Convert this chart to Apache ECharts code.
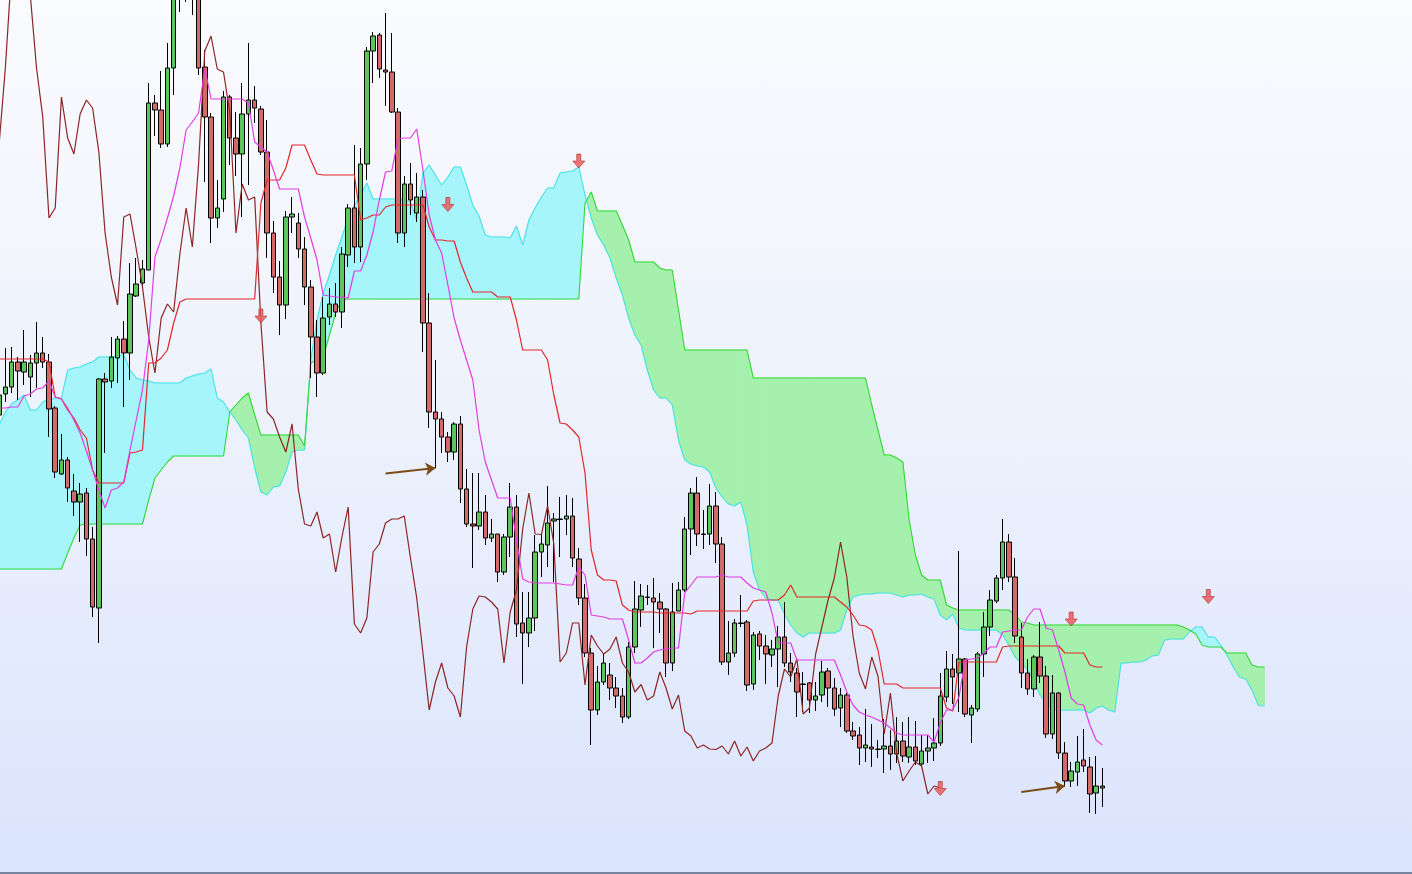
<!DOCTYPE html>
<html>
<head>
<meta charset="utf-8">
<script src="https://cdn.jsdelivr.net/npm/echarts@6/dist/echarts.min.js"></script>
<style>
  html, body { margin: 0; padding: 0; width: 1412px; height: 874px; overflow: hidden; }
  body { background: linear-gradient(to bottom, #fafbfe 0%, #eef2fc 45%, #dae4fd 100%); position: relative; }
  #chart { position: absolute; left: 0; top: 0; width: 1412px; height: 874px; }
  #baseline { position: absolute; left: 0; top: 872px; width: 1412px; height: 2px; background: #7784a0; }
</style>
</head>
<body>
<div id="chart"></div>
<div id="baseline"></div>
<script>
// ---- Candles (price units) ----
const open = [
58.5,60.6,61.3,63.8,62.8,62.3,63.7,64.7,63.8,59.2,
52.6,54.0,50.9,49.8,50.7,46.1,39.2,62.1,61.9,64.2,
66.1,64.7,70.4,71.7,73.0,89.7,89.0,85.6,93.2,101.5,
102.5,103.0,100.8,93.3,88.3,78.2,80.1,90.3,86.2,84.6,
88.6,90.0,89.1,84.8,76.7,72.3,69.5,78.3,77.7,75.1,
71.3,66.3,62.7,68.3,69.6,68.8,74.5,79.2,75.3,83.6,
94.9,96.5,93.0,92.8,88.8,76.7,81.6,78.7,80.3,67.7,
58.8,58.1,56.3,54.8,57.6,51.1,47.6,47.4,48.8,46.2,
46.6,42.8,46.3,49.3,37.7,36.7,38.2,44.8,45.5,47.9,
48.05,48.1,48.4,44.1,40.2,34.7,29.0,31.8,32.5,31.2,
30.4,28.3,35.3,39.0,40.25,40.2,39.8,39.1,33.7,38.9,
41.0,47.1,50.7,46.6,46.6,49.4,45.6,33.8,34.7,37.65,
37.8,31.6,36.6,35.4,34.5,35.1,36.3,33.7,32.7,31.6,
31.7,30.0,30.5,32.9,31.2,29.2,30.5,26.9,26.5,25.2,
25.3,25.1,25.1,25.4,24.6,25.9,24.3,25.3,23.6,24.9,
25.2,25.7,30.3,33.1,32.7,34.1,28.5,29.1,34.6,37.3,
39.9,42.2,45.8,42.3,36.3,32.7,31.1,34.3,32.4,26.6,
30.7,24.7,21.9,22.8,24.0,23.3,20.7,21.4];
const close = [
60.5,61.3,63.8,62.9,63.8,63.7,64.7,63.8,59.1,52.8,
54.0,51.2,49.8,50.6,46.1,39.3,62.1,61.8,64.3,66.1,
64.7,70.6,71.6,73.1,89.7,89.0,85.6,93.2,103.0,104.5,
100.8,100.5,93.2,88.3,78.2,79.2,90.3,86.2,84.6,88.6,
90.0,89.2,84.8,76.7,72.3,69.5,78.3,78.6,75.1,71.3,
66.3,62.7,68.2,69.6,68.8,74.6,79.2,75.3,83.6,94.9,
96.4,93.1,92.8,88.8,76.7,81.6,80.0,80.3,67.7,58.8,
58.1,56.3,54.8,57.6,51.1,47.6,47.4,48.8,46.2,46.6,
42.8,46.3,49.3,37.6,36.7,38.2,44.8,45.6,47.7,48.1,
48.1,48.4,44.2,40.2,34.7,29.0,31.8,33.7,31.2,30.4,
28.3,35.3,39.1,40.4,40.3,39.8,39.1,33.7,38.8,41.0,
47.1,50.7,46.6,46.55,49.4,45.6,33.8,34.7,37.7,37.7,
31.5,36.5,35.4,34.6,35.1,36.3,33.7,32.8,30.8,31.55,
30.0,30.4,32.8,31.2,29.1,30.5,26.9,26.4,25.2,25.5,
25.1,25.05,25.4,24.6,25.9,24.4,25.3,23.9,24.9,25.2,
25.7,30.4,33.1,32.3,34.1,28.6,29.2,34.6,37.3,40.0,
42.2,45.8,42.3,36.4,32.7,31.1,34.3,32.4,26.6,30.7,
24.7,21.9,22.9,23.8,23.4,20.6,21.4,21.2];
const low = [
58.0,59.8,60.7,60.0,61.5,60.3,61.2,63.2,56.3,52.2,
52.5,49.8,48.4,45.8,44.4,38.3,35.7,54.7,61.2,61.7,
59.3,62.0,70.3,71.3,73.0,86.4,85.2,85.3,90.5,98.8,
99.8,98.5,92.5,81.8,75.7,77.2,78.8,83.5,82.4,78.3,
81.5,87.7,84.5,74.2,70.7,66.5,68.1,76.7,74.2,69.5,
62.2,60.3,62.5,67.5,68.3,67.2,73.3,73.7,73.8,82.0,
91.7,92.2,89.4,88.7,75.7,75.3,78.5,77.8,64.8,57.2,
53.2,54.7,53.8,54.0,49.7,47.3,43.2,47.0,45.5,45.8,
41.8,42.5,44.3,36.3,31.6,35.3,36.9,42.3,43.3,41.8,
44.3,46.5,43.3,39.5,34.3,25.5,28.5,31.5,30.0,29.2,
27.7,28.1,34.7,37.3,39.5,35.2,36.7,32.3,32.9,38.9,
40.8,44.5,45.4,45.1,45.5,43.7,33.5,32.5,34.3,37.3,
30.9,31.0,34.0,31.6,33.3,31.3,33.3,31.8,28.3,28.8,
28.7,28.9,29.8,29.3,28.4,27.3,26.7,26.0,23.5,23.8,
23.3,24.2,22.7,23.0,23.7,23.8,23.7,23.5,23.3,23.7,
23.9,25.4,29.8,29.6,28.8,28.3,25.7,28.8,32.3,36.4,
39.7,41.0,41.8,35.7,31.2,30.5,30.3,31.7,26.2,26.1,
24.1,21.4,21.3,21.4,22.8,18.7,18.6,19.3];
const high = [
62.0,65.2,65.3,64.3,67.0,64.5,67.8,66.3,64.6,59.4,
56.6,54.3,52.6,51.7,51.2,47.3,62.2,62.7,66.3,66.4,
67.9,73.7,74.2,74.0,91.7,90.5,92.9,95.7,104.5,106.0,
105.0,105.5,103.0,95.0,88.7,82.0,90.9,90.5,88.8,91.7,
95.7,91.4,89.4,88.0,77.9,73.9,78.9,80.3,78.7,76.3,
72.0,68.0,70.3,71.2,71.7,75.3,79.6,85.5,85.2,95.3,
96.8,96.7,98.7,96.7,89.2,82.4,83.7,82.7,81.0,70.7,
64.0,58.8,56.8,57.8,58.4,53.1,52.7,52.7,50.5,48.1,
46.6,46.6,51.7,50.5,40.8,40.8,46.5,46.7,51.4,48.7,
50.3,50.5,50.2,45.2,41.6,35.2,33.4,34.7,33.7,32.3,
31.2,35.8,41.9,41.6,41.5,42.2,40.7,39.2,41.7,41.8,
48.3,51.2,52.3,49.0,51.6,50.8,46.3,37.9,38.1,40.5,
38.0,36.8,36.9,36.5,36.0,37.4,39.8,34.7,33.2,32.8,
31.8,31.8,33.9,33.2,32.2,31.2,30.7,27.8,27.3,29.1,
27.6,26.0,28.1,27.0,28.3,27.8,28.3,27.9,26.5,26.5,
28.2,32.7,34.9,34.6,44.9,34.2,29.5,34.8,38.8,41.0,
42.5,48.1,46.6,44.2,37.7,34.1,34.5,37.8,33.4,32.5,
30.8,25.8,23.8,26.4,27.1,24.3,24.4,23.2];

// ---- Ichimoku lines ----
const tenkan = [
59.2,59.2,59.3,59.3,60.4,60.6,61.1,61.2,61.9,60.3,
60.1,59.2,58.0,56.7,54.9,53.0,51.0,49.2,51.0,51.2,
51.8,55.0,58.0,61.0,66.0,74.3,76.1,78.2,80.4,83.2,
87.0,87.8,88.7,93.2,90.1,90.1,90.1,90.1,90.1,90.1,
89.7,85.8,85.3,84.8,83.0,81.1,81.1,81.1,81.1,78.3,
76.2,74.0,70.5,70.4,70.3,70.3,70.2,72.9,72.9,74.5,
76.8,80.0,82.8,82.9,86.1,86.2,86.2,87.1,83.0,78.5,
76.0,74.7,71.5,68.2,66.0,64.0,62.0,57.0,53.8,52.0,
50.2,50.2,50.2,46.0,42.1,41.8,41.7,41.7,41.7,41.7,
41.6,41.5,41.5,43.3,42.5,38.5,38.4,38.3,38.1,38.1,
38.1,36.0,33.7,33.7,34.2,34.8,35.0,35.1,35.2,35.2,
40.7,41.5,42.3,42.3,42.3,42.3,42.5,42.3,42.3,42.3,
41.7,41.2,41.0,40.8,38.7,35.7,35.7,35.7,34.0,34.0,
34.0,34.0,34.0,34.0,34.0,32.5,30.8,29.5,28.8,28.5,
28.3,28.0,27.7,27.2,26.7,26.5,26.5,26.5,26.5,26.5,
25.8,27.7,29.0,29.0,30.3,34.0,34.1,34.2,34.7,35.3,
35.3,36.8,36.9,37.0,37.0,38.3,39.1,39.1,37.2,37.0,
35.0,32.8,30.2,29.6,29.5,27.5,26.0,25.5];
const kijun = [
64.1,64.1,64.1,64.1,64.1,64.1,64.1,64.1,63.8,60.3,
60.1,59.0,58.2,57.0,56.2,53.0,51.7,51.7,51.7,51.7,
51.7,54.7,54.8,55.0,63.7,63.7,64.2,65.0,67.7,69.8,
70.1,70.1,70.1,70.1,70.1,70.1,70.1,70.1,70.1,70.1,
70.1,70.1,79.7,82.0,82.0,82.0,83.2,85.5,85.5,85.5,
84.0,82.6,82.5,82.5,82.5,82.5,82.5,82.5,78.0,78.2,
78.5,78.5,79.3,79.5,79.5,79.5,79.5,79.5,79.5,77.3,
76.0,76.0,75.9,75.9,73.8,72.2,70.8,70.8,70.8,70.8,
70.3,70.3,70.3,68.0,65.0,65.0,65.0,65.0,64.0,60.5,
57.7,57.6,57.0,56.3,52.7,45.0,42.5,42.0,42.0,41.9,
39.5,39.0,38.8,38.8,38.8,38.8,38.7,38.7,38.7,38.7,
38.7,38.6,38.9,38.9,38.9,38.9,38.9,38.9,38.9,38.9,
38.9,39.9,40.0,40.0,40.0,40.0,40.5,41.5,40.3,40.3,
40.3,40.3,40.3,40.3,40.3,39.8,39.3,38.5,37.5,37.4,
37.0,35.0,31.6,31.6,31.6,31.2,31.2,31.2,31.2,31.2,
31.2,31.2,29.2,28.9,33.8,33.8,33.8,33.8,33.8,33.8,
33.8,35.3,35.4,35.4,35.4,35.4,35.4,35.4,35.4,35.4,
35.4,34.7,34.7,34.7,34.7,33.5,33.3,33.3];
// lagging line = closes drawn 26 bars back
const chikouShift = 26;
const chikou = close.slice(chikouShift);

// leading spans (26 bars ahead of the last candle)
const spanA = [
57.5,58.8,59.6,60.0,60.5,59.0,59.0,59.8,60.1,60.2,
60.2,63.0,63.2,63.3,63.6,63.8,64.3,64.3,64.3,64.4,
64.5,63.0,62.2,62.0,61.9,61.7,61.7,61.7,61.7,61.7,
62.2,62.4,62.6,62.7,63.1,60.2,59.8,58.8,58.0,57.0,
56.2,53.2,50.8,50.5,51.3,51.4,52.8,54.8,55.0,55.0,
64.0,68.0,70.7,72.5,74.5,76.3,78.2,79.5,80.5,81.7,
80.1,80.1,80.1,80.1,80.1,80.0,79.8,78.0,82.7,83.5,
82.5,81.5,82.3,83.3,83.3,81.5,79.5,78.4,76.5,76.3,
76.3,76.3,76.2,77.4,75.5,78.0,79.2,80.3,81.2,81.2,
82.7,82.8,82.9,83.3,80.5,78.2,76.5,75.5,74.2,72.2,
70.5,68.2,66.5,65.5,63.0,61.0,60.2,60.2,59.5,56.0,
54.0,53.6,53.4,53.3,52.8,51.2,50.3,49.6,49.4,49.8,
47.5,42.8,41.0,40.2,40.0,40.0,38.6,37.5,36.7,36.3,
36.7,36.7,36.7,36.7,36.7,37.0,39.0,40.3,40.5,40.6,
40.6,40.7,40.7,40.7,40.5,40.3,40.5,40.5,40.6,40.3,
40.1,38.5,38.0,38.6,37.2,37.0,37.0,37.0,37.0,37.0,
37.0,36.5,35.5,34.3,33.7,33.0,32.0,30.5,29.7,29.1,
29.0,29.0,29.0,29.0,29.0,28.7,29.2,29.4,29.0,28.8,
33.7,33.7,33.8,33.8,34.0,34.4,34.5,36.0,36.1,36.1,
36.1,36.8,37.3,37.3,36.3,36.3,35.5,34.5,33.3,32.3,
32.1,31.0,29.5,29.4];
const spanB = [
43.1,43.1,43.1,43.1,43.1,43.1,43.1,43.1,43.1,43.1,
43.1,44.7,46.2,47.5,47.6,47.6,47.6,47.6,47.6,47.6,
47.6,47.6,47.6,47.6,50.0,52.2,53.0,53.8,54.4,54.4,
54.4,54.4,54.4,54.4,54.4,54.4,54.4,58.8,59.5,60.2,
60.7,58.5,56.5,56.5,56.5,56.5,56.5,56.5,56.5,55.4,
63.7,64.0,64.3,66.5,68.7,70.0,70.1,70.1,70.1,70.1,
70.1,70.1,70.1,70.1,70.1,70.1,70.1,70.1,70.1,70.1,
70.1,70.1,70.1,70.1,70.1,70.1,70.1,70.1,70.1,70.1,
70.1,70.1,70.1,70.1,70.1,70.1,70.1,70.1,70.1,70.1,
70.1,70.1,70.1,70.1,79.7,80.8,78.9,78.9,78.9,78.9,
77.5,76.0,73.8,73.8,73.8,73.8,73.2,73.0,73.0,69.0,
65.0,65.0,65.0,65.0,65.0,65.0,65.0,65.0,65.0,65.0,
65.0,62.2,62.2,62.2,62.2,62.2,62.2,62.2,62.2,62.2,
62.2,62.2,62.2,62.2,62.2,62.2,62.2,62.2,62.2,62.2,
59.5,57.0,54.5,54.5,54.2,53.8,48.0,44.5,42.5,42.0,
42.0,42.0,39.5,39.2,39.0,39.0,39.0,39.0,39.0,39.0,
39.0,39.0,39.0,38.5,37.8,37.7,37.5,37.5,37.5,37.5,
37.5,37.5,37.5,37.5,37.5,37.5,37.5,37.5,37.5,37.5,
37.5,37.5,37.5,37.5,37.5,37.5,37.5,37.5,37.5,37.5,
37.3,37.0,36.6,35.5,35.3,35.3,35.3,34.7,34.7,34.7,
34.7,33.5,33.3,33.3];

// ---- Signals ----
const sellBars = [42, 72, 93, 151, 172, 194];
const sellLevels = [68.4, 79.55, 83.9, 21.15, 38.1, 40.35];
const pointerFromBars = [62, 164];
const pointerFromLevels = [52.65, 20.8];
const pointerToBars = [70, 171];
const pointerToLevels = [53.2, 21.4];

// ---- Axis ----
const slotCount = 228;
const categories = Array.from({ length: slotCount }, (_, i) => String(i));
const yMin = 12.6, yMax = 100;

// ---- Build chart ----
const CYAN_FILL = '#a6f5fa';
const GREEN_FILL = '#a4f0ac';
const chart = echarts.init(document.getElementById('chart'), null, { renderer: 'canvas' });

const candleData = open.map((o, i) => [o, close[i], low[i], high[i]]);
const cloudIdx = spanA.slice(0, -1).map((_, i) => [i]);

const option = {
  animation: false,
  backgroundColor: 'transparent',
  grid: { left: -4, top: 0, width: 1421.1, height: 874, containLabel: false, outerBoundsMode: 'none' },
  xAxis: { type: 'category', data: categories, boundaryGap: true, show: false },
  yAxis: { type: 'value', min: yMin, max: yMax, show: false, splitLine: { show: false } },
  series: [
    {
      type: 'custom', name: 'cloud', z: 1, silent: true, clip: true,
      renderItem: (params, api) => {
        const i = api.value(0);
        const a0 = spanA[i], b0 = spanB[i], a1 = spanA[i + 1], b1 = spanB[i + 1];
        const pa0 = api.coord([i, a0]), pb0 = api.coord([i, b0]);
        const pa1 = api.coord([i + 1, a1]), pb1 = api.coord([i + 1, b1]);
        const d0 = a0 - b0, d1 = a1 - b1;
        const col = d => (d >= 0 ? CYAN_FILL : GREEN_FILL);
        const poly = (pts, c) => ({ type: 'polygon', shape: { points: pts }, style: { fill: c, stroke: c, lineWidth: 1 } });
        if (d0 * d1 < 0) {
          const t = d0 / (d0 - d1);
          const pm = [pa0[0] + t * (pa1[0] - pa0[0]), pa0[1] + t * (pa1[1] - pa0[1])];
          return { type: 'group', children: [poly([pa0, pm, pb0], col(d0)), poly([pm, pa1, pb1], col(d1))] };
        }
        return poly([pa0, pa1, pb1, pb0], col(d0 !== 0 ? d0 : d1));
      },
      data: cloudIdx
    },
    { type: 'line', name: 'Senkou A', data: spanA, z: 2, showSymbol: false, silent: true,
      lineStyle: { color: '#48e2ea', width: 1.1 } },
    { type: 'line', name: 'Senkou B', data: spanB, z: 2, showSymbol: false, silent: true,
      lineStyle: { color: '#36d936', width: 1.1 } },
    {
      type: 'candlestick', name: 'price', data: candleData, z: 3, barWidth: 5, clip: true, silent: true,
      itemStyle: { color: '#5cc65c', color0: '#d26a6a', borderColor: '#000000', borderColor0: '#000000', borderWidth: 1 },
      markLine: {
        silent: true, animation: false,
        symbol: ['none', 'arrow'], symbolSize: 10,
        label: { show: false },
        lineStyle: { color: '#7c4c17', width: 2, type: 'solid' },
        emphasis: { disabled: true },
        data: pointerFromBars.map((b, k) => [
          { coord: [String(b), pointerFromLevels[k]] },
          { coord: [String(pointerToBars[k]), pointerToLevels[k]] }
        ])
      }
    },
    { type: 'line', name: 'Chikou', data: chikou, z: 4, showSymbol: false, silent: true,
      lineStyle: { color: '#8c2525', width: 1.2 } },
    { type: 'line', name: 'Kijun', data: kijun, z: 4, showSymbol: false, silent: true,
      lineStyle: { color: '#e3262b', width: 1.2 } },
    { type: 'line', name: 'Tenkan', data: tenkan, z: 4, showSymbol: false, silent: true,
      lineStyle: { color: '#e23de2', width: 1.2 } },
    {
      type: 'scatter', name: 'sell', z: 5, silent: true,
      symbol: 'path://M4,0 L8,0 L8,7 L12,7 L6,14 L0,7 L4,7 Z',
      symbolSize: [12, 14],
      itemStyle: { color: '#ec5252', borderColor: '#b03030', borderWidth: 0.8 },
      data: sellBars.map((b, k) => [String(b), sellLevels[k]])
    }
  ]
};
chart.setOption(option);
</script>
</body>
</html>
